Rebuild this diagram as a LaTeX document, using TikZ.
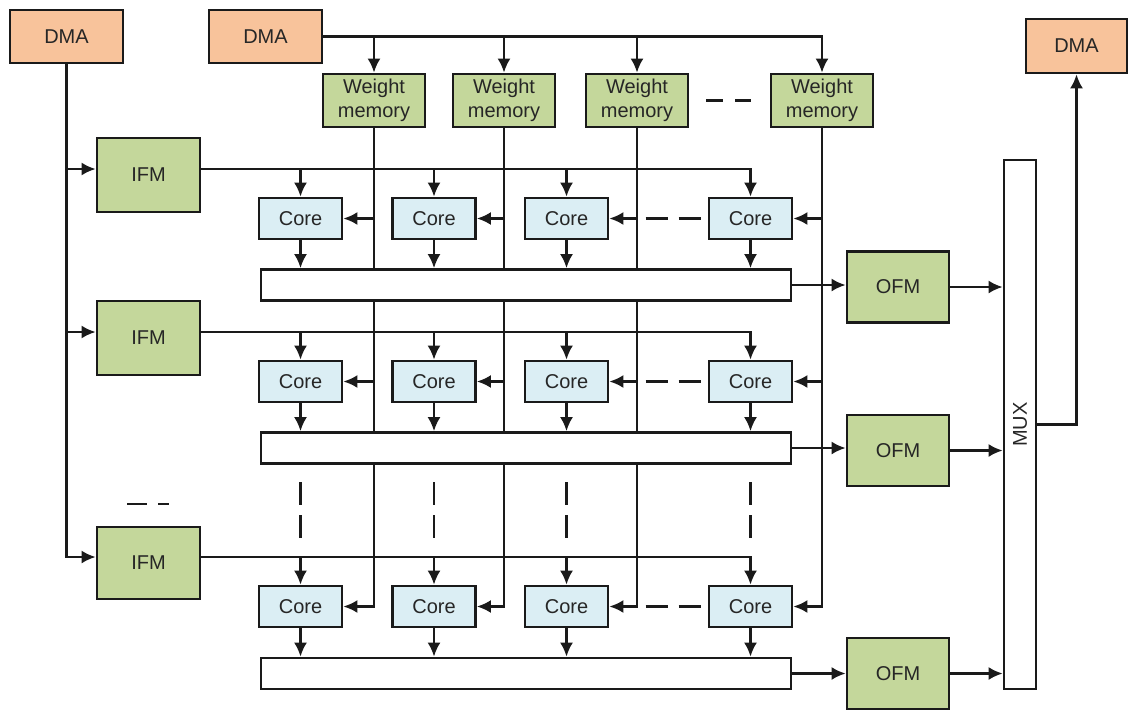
\documentclass[tikz,border=0pt]{standalone}
\usepackage{fontspec}
\setmainfont{Liberation Sans}
\usetikzlibrary{arrows.meta,backgrounds}
\definecolor{dmafill}{HTML}{F8C39B}
\definecolor{memfill}{HTML}{C4D79B}
\definecolor{corefill}{HTML}{DBEEF4}
\definecolor{ink}{HTML}{1A1A1A}
\definecolor{txt}{HTML}{262626}

\begin{document}
\begin{tikzpicture}[x=1pt,y=-1pt,
  blk/.style={draw=ink, line width=2.8pt, inner sep=0pt, text=txt,
    font=\fontsize{20}{24}\selectfont, align=center},
  dmabox/.style={blk, fill=dmafill, minimum width=113pt, minimum height=53pt},
  membox/.style={blk, fill=memfill},
  corebox/.style={blk, fill=corefill, minimum width=83pt, minimum height=41pt},
  barbox/.style={blk, fill=white, minimum width=530pt, minimum height=31pt},
  ofmbox/.style={membox, minimum width=102pt, minimum height=71pt},
  link/.style={draw=ink, line width=2.2pt},
  arr/.style={link, -{Latex[length=14pt,width=13pt]}},
]
\useasboundingbox (0,0) rectangle (1130,710);

% DMA engines
\node[dmabox] (dmaA) at (66.5,36.5) {DMA};
\node[dmabox] (dmaB) at (265.5,36.5) {DMA};
\node[dmabox, minimum width=101pt, minimum height=54pt] (dmaC) at (1076.5,46) {DMA};

% weight memories
\foreach \k/\x in {1/374,2/504,3/637,4/822}
  \node[membox, minimum width=102pt, minimum height=53pt] (wm\k) at (\x,100.5) {Weight\\memory};

% input feature maps
\node[membox, minimum width=103pt, minimum height=74pt] (ifm1) at (148.5,175) {IFM};
\node[membox, minimum width=103pt, minimum height=74pt] (ifm2) at (148.5,338) {IFM};
\node[membox, minimum width=103pt, minimum height=72pt] (ifm3) at (148.5,563) {IFM};
\foreach \r in {1,2,3} {
  \coordinate (in\r) at ([yshift=6pt]ifm\r.west);
  \coordinate (out\r) at ([yshift=6pt]ifm\r.east);
}

% core array
\foreach \r/\y in {1/218.5,2/381.5,3/606.5}
  \foreach \c/\x in {1/300.5,2/434,3/566.5,4/750.5}
    \node[corebox] (c\r\c) at (\x,\y) {Core};

% accumulation bars
\node[barbox] (bar1) at (526,285) {};
\node[barbox] (bar2) at (526,448) {};
\node[barbox] (bar3) at (526,673.5) {};

% output feature maps
\node[ofmbox] (ofm1) at (898,287) {OFM};
\node[ofmbox] (ofm2) at (898,450.5) {OFM};
\node[ofmbox] (ofm3) at (898,673.5) {OFM};

% multiplexer
\node[blk, fill=white, minimum width=32pt, minimum height=529pt] (mux) at (1020,424.5) {};
\node[rotate=90, text=txt, font=\fontsize{20}{24}\selectfont] (muxlabel) at (mux.center) {MUX};

\coordinate (gaptop) at (0,482);
\coordinate (gapbot) at (0,538);

\begin{scope}[on background layer]
  \fill[white] (0,0) rectangle (1130,710);

  % DMA feeding the IFMs
  \draw[arr] (dmaA.south) |- (in3);
  \draw[arr] (in1 -| dmaA.south) -- (in1);
  \draw[arr] (in2 -| dmaA.south) -- (in2);

  % DMA feeding the weight memories
  \draw[arr] (dmaB.east) -| (wm4.north);
  \foreach \k in {1,2,3}
    \draw[arr] (wm\k.north |- dmaB.east) -- (wm\k.north);

  % rows: IFM to cores, cores to bar, bar to OFM, OFM to MUX
  \foreach \r in {1,2,3} {
    \draw[arr] (out\r) -| (c\r4.north);
    \foreach \c in {1,2,3}
      \draw[arr] (c\r\c.north |- out\r) -- (c\r\c.north);
    \foreach \c in {1,2,3,4}
      \draw[arr] (c\r\c.south) -- (c\r\c.south |- bar\r.north);
    \draw[arr] (bar\r.east) -- (bar\r.east -| ofm\r.west);
    \draw[arr] (ofm\r.east) -- (ofm\r.east -| mux.west);
    \draw[link, dash pattern=on 22pt off 11pt]
      ([xshift=-62pt]c\r4.west) -- ([xshift=-7pt]c\r4.west);
  }

  % columns: weight memories to cores
  \foreach \c in {1,2,3,4} {
    \draw[arr] (wm\c.south) |- (c3\c.east);
    \draw[arr] (wm\c.south |- c1\c.east) -- (c1\c.east);
    \draw[arr] (wm\c.south |- c2\c.east) -- (c2\c.east);
    \draw[link, dash pattern=on 23pt off 10pt]
      (c3\c.north |- gaptop) -- (c3\c.north |- gapbot);
  }

  % MUX to output DMA
  \draw[arr] (mux.east) -| (dmaC.south);
\end{scope}

% elision marks
\draw[link, dash pattern=on 17pt off 12pt]
  ([xshift=17pt]wm3.east) -- ([xshift=-19pt]wm4.west);
\draw[link] (127,504) -- (147,504);
\draw[link] (158,504) -- (169,504);
\end{tikzpicture}
\end{document}
